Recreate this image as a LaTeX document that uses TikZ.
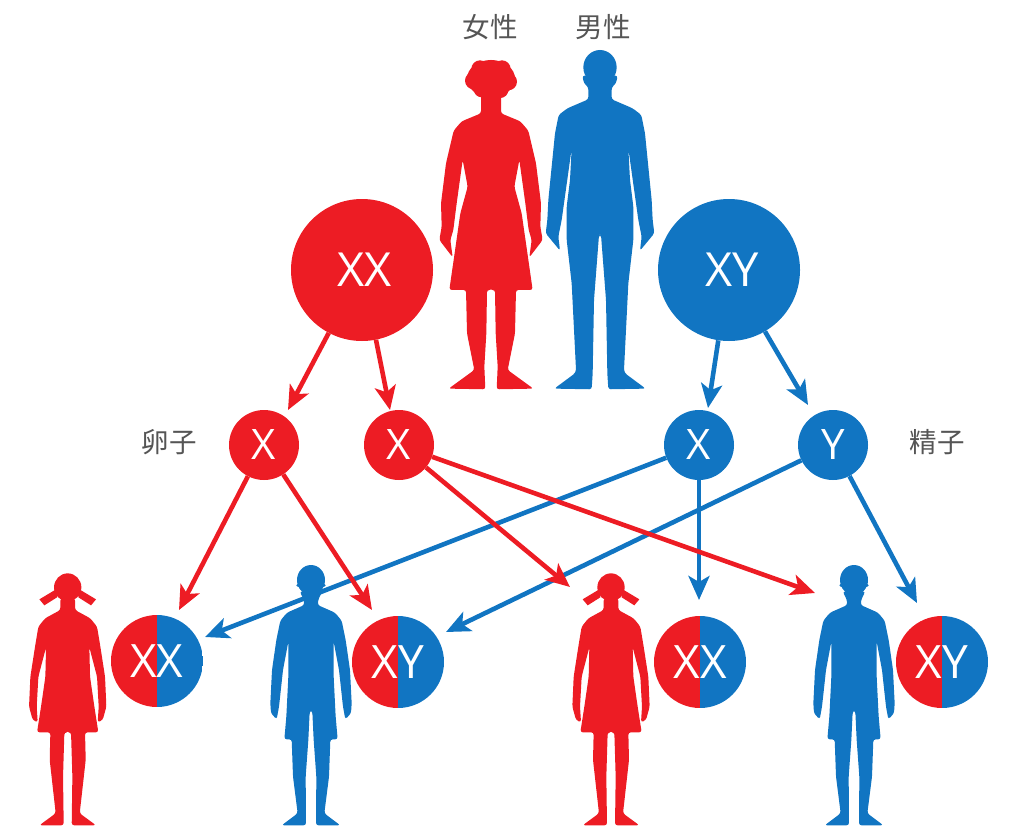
\documentclass[tikz,border=0pt]{standalone}
\usepackage{fontspec}
\newfontfamily\cjkfont{Noto Sans CJK JP}
\newfontfamily\latfont{Open Sans}
\usetikzlibrary{arrows.meta}
\definecolor{redc}{HTML}{ED1C24}
\definecolor{bluec}{HTML}{1175C2}
\definecolor{labelc}{HTML}{555555}
\newcommand\halfgirl{[rounded corners=2.5pt] (-3,110) -- (22,115) -- (22,150) -- (68,175) -- (88,200) -- (98,260) -- (112,350) -- (116,440) -- (105,480) -- (90,487) -- (93,440) -- (88,350) -- (65,262) -- (67,350) -- (80,440) -- (92,517) -- (52,517) -- (54,600) -- (36,760) -- (85,796) -- (12,796) -- (14,650) -- (10,517) -- (-3,517) -- cycle}
\newcommand\halfboy{[rounded corners=2.5pt] (-3,90) -- (34,95) -- (22,118) -- (20,135) -- (72,158) -- (92,182) -- (104,240) -- (117,330) -- (122,430) -- (120,460) -- (103,478) -- (96,440) -- (84,330) -- (68,245) -- (68,350) -- (74,470) -- (80,538) -- (58,538) -- (54,650) -- (40,760) -- (88,796) -- (15,796) -- (16,650) -- (8,540) -- (4,455) -- (-3,450) -- cycle}
\newcommand\halfwoman{[rounded corners=2.5pt] (-3,280) -- (30,280) -- (30,340) -- (88,364) -- (112,392) -- (135,490) -- (150,610) -- (148,680) -- (155,720) -- (115,772) -- (122,720) -- (113,690) -- (103,610) -- (85,480) -- (70,560) -- (92,640) -- (125,870) -- (75,870) -- (72,1000) -- (50,1110) -- (127,1166) -- (17,1168) -- (20,1100) -- (14,1000) -- (12,870) -- (-3,870) -- cycle}
\newcommand\halfman{[rounded corners=2.5pt] (-3,225) -- (53,227) -- (48,250) -- (35,262) -- (35,298) -- (98,325) -- (124,345) -- (135,400) -- (155,600) -- (158,660) -- (163,700) -- (120,752) -- (125,710) -- (115,660) -- (85,445) -- (90,540) -- (100,620) -- (100,720) -- (85,850) -- (72,1110) -- (75,1120) -- (137,1166) -- (25,1168) -- (22,1120) -- (18,900) -- (3,705) -- (-3,705) -- cycle}
\tikzset{
  arrowline/.style={line width=4.6pt,-{Stealth[length=24pt,width=21pt,inset=6pt]}},
  redarrow/.style={arrowline,draw=redc},
  bluearrow/.style={arrowline,draw=bluec},
  bigcircle/.style={circle,minimum size=142pt,inner sep=0pt,text=white,font=\latfont\fontsize{47}{47}\selectfont},
  smallcircle/.style={circle,minimum size=70pt,inner sep=0pt,text=white,font=\latfont\fontsize{42}{42}\selectfont},
  splitcircle/.style={circle,minimum size=92pt,inner sep=0pt,text=white,font=\latfont\fontsize{46}{46}\selectfont,
    path picture={\fill[redc] (path picture bounding box.south west) rectangle (path picture bounding box.north);
                  \fill[bluec] (path picture bounding box.south) rectangle (path picture bounding box.north east);}},
  cjklabel/.style={text=labelc,font=\cjkfont\fontsize{27.5}{27.5}\selectfont,inner sep=0pt},
  girlfig/.pic={\begin{scope}[x=.3333pt,y=-.3333pt]
    \fill[redc] \halfgirl; \fill[redc,xscale=-1] \halfgirl;
    \fill[redc] (0,82) ellipse [x radius=41,y radius=42];
    \fill[redc] (30,85) -- (85,118) -- (70,136) -- (32,112) -- cycle;
    \fill[redc] (-30,85) -- (-85,118) -- (-70,136) -- (-32,112) -- cycle;
    \end{scope}},
  boyfig/.pic={\begin{scope}[x=.3333pt,y=-.3333pt]
    \fill[bluec] \halfboy; \fill[bluec,xscale=-1] \halfboy;
    \fill[bluec] (0,60) ellipse [x radius=42,y radius=45];
    \fill[bluec] (0,76) ellipse [x radius=44,y radius=9];
    \end{scope}},
  womanfig/.pic={\begin{scope}[x=.3333pt,y=-.3333pt]
    \fill[redc] \halfwoman; \fill[redc,xscale=-1] \halfwoman;
    \fill[redc] (0,236) ellipse [x radius=72,y radius=56];
    \foreach \hx/\hy/\hr in {-52/242/26,52/245/26,-33/207/26,33/207/26,0/206/26,-28/268/24,28/270/24}{\fill[redc] (\hx,\hy) circle [radius=\hr];}
    \end{scope}},
  manfig/.pic={\begin{scope}[x=.3333pt,y=-.3333pt]
    \fill[bluec] \halfman; \fill[bluec,xscale=-1] \halfman;
    \fill[bluec] (0,202) ellipse [x radius=50,y radius=52];
    \end{scope}}
}
\begin{document}
\begin{tikzpicture}[x=1pt,y=-1pt]
\useasboundingbox (0,0) rectangle (1024,835);
% figures
\pic at (491,0) {womanfig};
\pic at (600,0) {manfig};
\pic at (67.7,560) {girlfig};
\pic at (311,560) {boyfig};
\pic at (611,560) {girlfig};
\pic at (854,560) {boyfig};
% labels
\node[cjklabel] (lf) at (490,27) {女性};
\node[cjklabel] (lm) at (603,27) {男性};
\node[cjklabel] (le) at (169,442) {卵子};
\node[cjklabel] (ls) at (937,442) {精子};
% chromosome circles
\node[bigcircle,fill=redc] (xx) at (362,270) {\hspace{6pt}XX};
\node[bigcircle,fill=bluec] (xy) at (729,270) {\hspace{6pt}XY};
\node[smallcircle,fill=redc] (x1) at (264,445) {X};
\node[smallcircle,fill=redc] (x2) at (399,445) {X};
\node[smallcircle,fill=bluec] (x3) at (699,445) {X};
\node[smallcircle,fill=bluec] (y1) at (833,445) {Y};
\node[splitcircle] (c1) at (157,661) {XX};
\node[splitcircle] (c2) at (398,662) {XY};
\node[splitcircle] (c3) at (700,662) {XX};
\node[splitcircle] (c4) at (942,662) {XY};
% free arrow ends
\coordinate (t1) at (288,410);
\coordinate (t2) at (390,410);
\coordinate (t3) at (708,408);
\coordinate (t4) at (808,405);
\coordinate (t5) at (179,610);
\coordinate (t6) at (372,610);
\coordinate (t7) at (570,587);
\coordinate (t8) at (815,593);
\coordinate (t9) at (205,637);
\coordinate (t10) at (699,600);
\coordinate (t11) at (446,632);
\coordinate (t12) at (917,603);
% connectors
\draw[bluearrow] (x3) -- (t9);
\draw[bluearrow] (x3) -- (t10);
\draw[bluearrow] (y1) -- (t11);
\draw[bluearrow] (y1) -- (t12);
\draw[bluearrow] (xy) -- (t3);
\draw[bluearrow] (xy) -- (t4);
\draw[redarrow] (xx) -- (t1);
\draw[redarrow] (xx) -- (t2);
\draw[redarrow] (x1) -- (t5);
\draw[redarrow] (x1) -- (t6);
\draw[redarrow] (x2) -- (t7);
\draw[redarrow] (x2) -- (t8);
\end{tikzpicture}
\end{document}
